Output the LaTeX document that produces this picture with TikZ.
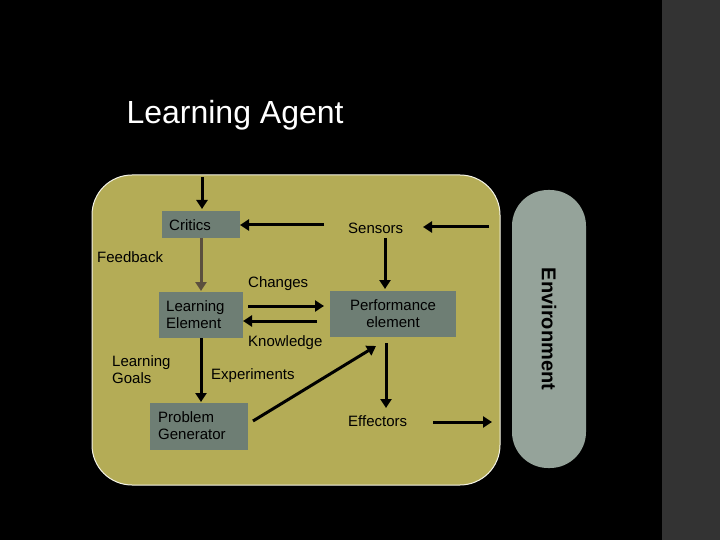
\documentclass[tikz,border=0pt]{standalone}
\usepackage{fontspec}
\setmainfont{Liberation Sans}
\usetikzlibrary{arrows.meta}
\definecolor{olive}{HTML}{B4AC56}
\definecolor{boxc}{HTML}{6E7E74}
\definecolor{envc}{HTML}{95A39A}
\definecolor{fb}{HTML}{5B4F3E}
\begin{document}
\begin{tikzpicture}[x=1pt,y=-1pt,
  box/.style={fill=boxc,minimum width=#1,anchor=north west,inner sep=0pt},
  lbl/.style={font=\fontsize{15}{17}\selectfont,align=left,inner sep=0pt},
  arr/.style={line width=3pt,-{Triangle[length=9pt,width=11pt]}}]
\fill[black] (0,0) rectangle (720,540);
\fill[black!80] (662,0) rectangle (720,540);
\useasboundingbox (0,0) rectangle (720,540);
\node[anchor=west,font=\fontsize{32}{36}\selectfont,text=white] (title) at (123,115) {Learning Agent};
\draw[white!85!olive,line width=1pt,fill=olive,rounded corners=40pt] (92,175) rectangle (500,485);
\fill[envc,rounded corners=36pt] (512,190) rectangle (586,468);
\node[rotate=-90,font=\bfseries\fontsize{20}{22}\selectfont] (env) at (549,329) {Environment};
\fill[boxc] (162,211) rectangle (240,238);
\node[lbl,anchor=west] (critics) at (169,225) {Critics};
\coordinate (cr) at (240,225);
\fill[boxc] (159,292) rectangle (243,338);
\node[lbl,anchor=west] (le) at (166,315) {Learning\\Element};
\fill[boxc] (330,291) rectangle (456,337);
\node[lbl,align=center] (pe) at (393,314) {Performance\\element};
\fill[boxc] (150,403) rectangle (248,450);
\node[lbl,anchor=west] (pg) at (158,426) {Problem\\Generator};
\node[lbl,anchor=west] (sensors) at (348,228) {Sensors};
\node[lbl,anchor=west] (effectors) at (348,421) {Effectors};
\node[lbl,anchor=west] (feedback) at (97,257) {Feedback};
\node[lbl,anchor=west] (changes) at (248,284) {Changes};
\node[lbl,anchor=west] (knowledge) at (248,343) {Knowledge};
\node[lbl,anchor=west] (goals) at (112,370) {Learning\\Goals};
\node[lbl,anchor=west] (exp) at (211,376) {Experiments};
\coordinate (t0) at (202,177); \coordinate (t1) at (202,209);
\draw[arr] (t0) -- (t1);
\coordinate (s0) at (324,225); \draw[arr] (s0) -- (cr);
\coordinate (r0) at (489,227); \coordinate (r1) at (423,227); \draw[arr] (r0) -- (r1);
\coordinate (f0) at (201,238); \coordinate (f1) at (201,291);
\draw[arr,fb] (f0) -- (f1);
\coordinate (sd0) at (385,238); \coordinate (sd1) at (385,289); \draw[arr] (sd0) -- (sd1);
\coordinate (c0) at (248,306); \coordinate (c1) at (324,306); \draw[arr] (c0) -- (c1);
\coordinate (k0) at (317,321); \coordinate (k1) at (243,321); \draw[arr] (k0) -- (k1);
\coordinate (l0) at (201,338); \coordinate (l1) at (201,402); \draw[arr] (l0) -- (l1);
\coordinate (p0) at (253,421); \coordinate (p1) at (376,346); \draw[arr] (p0) -- (p1);
\coordinate (e0) at (386,343); \coordinate (e1) at (386,408); \draw[arr] (e0) -- (e1);
\coordinate (o0) at (433,422); \coordinate (o1) at (492,422); \draw[arr] (o0) -- (o1);
\end{tikzpicture}
\end{document}
